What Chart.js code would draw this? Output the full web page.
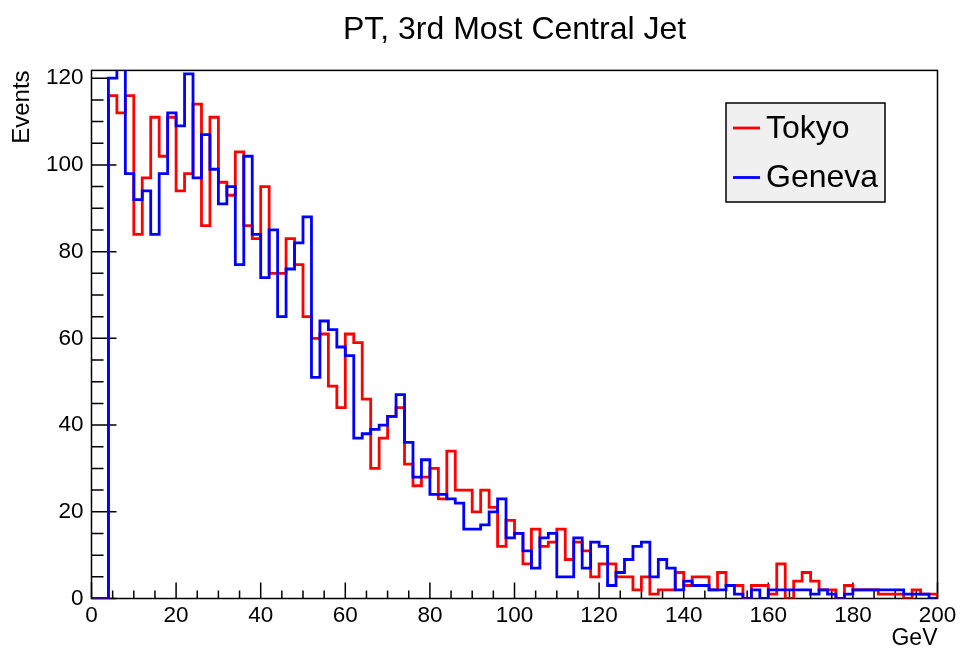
<!DOCTYPE html>
<html>
<head>
<meta charset="utf-8">
<title>PT, 3rd Most Central Jet</title>
<script src="https://cdn.jsdelivr.net/npm/chart.js@4.4.1/dist/chart.umd.min.js"></script>
<style>
  html, body { margin: 0; padding: 0; background: #fff; }
  #wrap { width: 964px; height: 653px; }
</style>
</head>
<body>
<div id="wrap"><canvas id="hist" width="964" height="653"></canvas></div>
<script>
// histogram binning (GeV)
const binWidth = 2;
const xMin = 0;
const xMax = 200;
const yMax = 121.8;

// tick spacing
const xTickStep = 20;
const yTickStep = 20;
const xMinorStep = 5;
const yMinorStep = 5;

const seriesNames = ['Tokyo', 'Geneva'];

// events per 2 GeV bin, 0 -> 200 GeV
const tokyo = [
  0, 0, 116, 112, 116, 84, 97, 111, 102, 111,
  94, 98, 114, 86, 111, 96, 93, 103, 86, 83,
  95, 75, 75, 83, 77, 65, 60, 61, 49, 44,
  61, 59, 46, 30, 37, 42, 44, 31, 26, 28,
  30, 23, 34, 25, 25, 20, 25, 21, 12, 18,
  15, 8, 16, 12, 13, 16, 9, 13, 11, 5,
  8, 8, 5, 5, 2, 5, 1, 2, 2, 6,
  3, 5, 5, 2, 6, 3, 3, 0, 3, 3,
  1, 8, 0, 4, 6, 4, 2, 2, 0, 3,
  2, 2, 2, 1, 1, 1, 0, 2, 1, 1
];

const geneva = [
  0, 0, 120, 125, 98, 92, 94, 84, 98, 112,
  109, 121, 97, 107, 99, 91, 95, 77, 102, 84,
  74, 85, 65, 76, 82, 88, 51, 64, 62, 58,
  56, 37, 38, 39, 40, 42, 47, 36, 28, 32,
  24, 24, 23, 22, 16, 16, 17, 20, 23, 14,
  15, 11, 7, 14, 15, 5, 5, 14, 7, 13,
  12, 3, 6, 9, 12, 13, 5, 9, 7, 2,
  4, 3, 3, 2, 2, 3, 1, 0, 2, 0,
  2, 2, 2, 2, 2, 1, 2, 1, 0, 1,
  2, 2, 2, 2, 2, 2, 1, 1, 1, 0
];

const FONT = '"Liberation Sans", Arial, Helvetica, sans-serif';

// outline of a histogram: one point per low edge, plus the closing edge
function histPoints(values) {
  const pts = values.map((v, i) => ({ x: xMin + i * binWidth, y: v }));
  pts.push({ x: xMax, y: values[values.length - 1] });
  pts.push({ x: xMax, y: 0 });
  return pts;
}

// ROOT style frame with inward ticks
const rootFrame = {
  id: 'rootFrame',
  beforeDatasetsDraw(chart) {
    const { ctx, chartArea: a, scales: { x, y } } = chart;
    ctx.save();
    ctx.strokeStyle = '#000';
    ctx.lineWidth = 1.5;
    ctx.beginPath();
    for (let v = xMin; v <= xMax; v += xMinorStep) {
      const px = x.getPixelForValue(v);
      const len = v % xTickStep === 0 ? 16 : 8;
      ctx.moveTo(px, a.bottom);
      ctx.lineTo(px, a.bottom - len);
    }
    for (let v = 0; v <= yMax; v += yMinorStep) {
      const py = y.getPixelForValue(v);
      const len = v % yTickStep === 0 ? 25 : 12;
      ctx.moveTo(a.left, py);
      ctx.lineTo(a.left + len, py);
    }
    ctx.stroke();
    ctx.strokeRect(a.left, a.top, a.right - a.left, a.bottom - a.top);
    ctx.restore();
  }
};

// TLegend-like box
const rootLegend = {
  id: 'rootLegend',
  afterDraw(chart) {
    const ctx = chart.ctx;
    const box = { left: 726, top: 103, width: 159, height: 99 };
    ctx.save();
    ctx.fillStyle = '#f0f0f0';
    ctx.fillRect(box.left, box.top, box.width, box.height);
    ctx.strokeStyle = '#000';
    ctx.lineWidth = 1.5;
    ctx.strokeRect(box.left, box.top, box.width, box.height);
    chart.data.datasets.forEach((ds, i) => {
      const cy = box.top + 25 + i * 49.5;
      ctx.strokeStyle = ds.borderColor;
      ctx.lineWidth = ds.borderWidth;
      ctx.beginPath();
      ctx.moveTo(box.left + 7, cy);
      ctx.lineTo(box.left + 34, cy);
      ctx.stroke();
      ctx.fillStyle = '#000';
      ctx.font = '32px ' + FONT;
      ctx.textBaseline = 'middle';
      ctx.textAlign = 'left';
      ctx.fillText(ds.label, box.left + 40, cy + 1);
    });
    ctx.restore();
  }
};

Chart.defaults.color = '#000';
Chart.defaults.font.family = FONT;

new Chart(document.getElementById('hist'), {
  type: 'line',
  data: {
    datasets: [
      {
        label: seriesNames[0],
        data: histPoints(tokyo),
        borderColor: '#ff0000',
        borderWidth: 2.8,
        stepped: 'before',
        pointRadius: 0,
        fill: false,
        order: 1,
      },
      {
        label: seriesNames[1],
        data: histPoints(geneva),
        borderColor: '#0000ff',
        borderWidth: 2.8,
        stepped: 'before',
        pointRadius: 0,
        fill: false,
        order: 0,
      },
    ],
  },
  options: {
    responsive: false,
    animation: false,
    devicePixelRatio: 1,
    layout: { padding: { top: 0, right: 26.5, bottom: 0, left: 0 } },
    plugins: {
      legend: { display: false },
      tooltip: { enabled: false },
      title: {
        display: true,
        text: 'PT, 3rd Most Central Jet',
        fullSize: false,
        font: { size: 32, weight: 'normal' },
        padding: { top: 11, bottom: 21 },
      },
    },
    scales: {
      x: {
        type: 'linear',
        min: xMin,
        max: xMax,
        grid: { display: false, drawTicks: false },
        border: { display: false },
        ticks: {
          stepSize: xTickStep,
          autoSkip: false,
          maxRotation: 0,
          padding: 4,
          font: { size: 22.5 },
        },
        title: {
          display: true,
          text: 'GeV',
          align: 'end',
          font: { size: 23 },
          padding: { top: 0, bottom: 1 },
        },
        afterFit(scale) { scale.height = 54.5; },
      },
      y: {
        type: 'linear',
        min: 0,
        max: yMax,
        grid: { display: false, drawTicks: false },
        border: { display: false },
        ticks: {
          stepSize: yTickStep,
          includeBounds: false,
          padding: 8,
          font: { size: 22.5 },
        },
        title: {
          display: true,
          text: 'Events',
          align: 'end',
          font: { size: 24 },
          padding: { top: 8, bottom: 0 },
        },
        afterFit(scale) { scale.width = 91.5; },
      },
    },
  },
  plugins: [rootFrame, rootLegend],
});
</script>
</body>
</html>
